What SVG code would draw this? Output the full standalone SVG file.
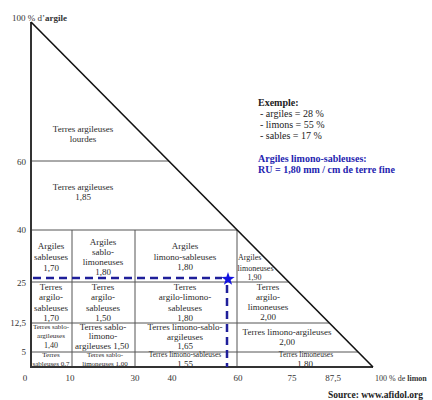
<svg xmlns="http://www.w3.org/2000/svg" width="432" height="400" viewBox="0 0 432 400">
<style>
  text { font-family: "Liberation Serif", "Times New Roman", serif; fill: #2a2a2a; }
  .c9 { font-size: 9px; text-anchor: middle; }
  .c8 { font-size: 8px; }
  .c7 { font-size: 7px; text-anchor: middle; }
  .ax { font-size: 9px; fill: #333; }
  .axr { font-size: 9px; fill: #333; text-anchor: end; }
  .axc { font-size: 9px; fill: #333; text-anchor: middle; }
  .grid { stroke: #555; stroke-width: 1; fill: none; }
  .axis { stroke: #333; stroke-width: 2; fill: none; }
  .hyp { stroke: #111; stroke-width: 1.6; fill: none; }
  .dash { stroke: #1f1f9a; stroke-width: 2.5; stroke-dasharray: 8 5; fill: none; }
  .leg { font-size: 10px; fill: #222; }
  .legb { font-size: 10px; font-weight: bold; fill: #222; }
  .blue { font-size: 10px; font-weight: bold; fill: #2424b0; }
</style>
<rect width="432" height="400" fill="#ffffff"/>

<g id="connectors">
  <!-- grid lines -->
  <line class="grid" x1="31" y1="161" x2="169" y2="161"/>
  <line class="grid" x1="31" y1="230" x2="237" y2="230"/>
  <line class="grid" x1="31" y1="282" x2="289" y2="282"/>
  <line class="grid" x1="31" y1="323" x2="329" y2="323"/>
  <line class="grid" x1="31" y1="352" x2="358" y2="352"/>
  <line class="grid" x1="72" y1="230" x2="72" y2="367"/>
  <line class="grid" x1="135" y1="230" x2="135" y2="367"/>
  <line class="grid" x1="237" y1="230" x2="237" y2="367"/>
  <!-- axes -->
  <line class="axis" x1="31" y1="22" x2="31" y2="368"/>
  <line class="axis" x1="30" y1="367" x2="373" y2="367"/>
  <line class="hyp" x1="31" y1="22" x2="373" y2="367"/>
  <!-- example dashed lines -->
  <line class="dash" x1="33" y1="278" x2="222" y2="278"/>
  <line class="dash" x1="227" y1="285" x2="227" y2="367"/>
</g>

<g id="star">
  <polygon fill="#1212e0" points="228,272 229.6,276.8 234.7,276.9 230.6,279.9 232.1,284.8 228,281.9 223.9,284.8 225.4,279.9 221.3,276.9 226.4,276.8"/>
</g>

<g id="axis-labels">
  <text class="ax" x="12" y="21">100 % d’<tspan font-weight="bold">argile</tspan></text>
  <text class="axr" x="26" y="165">60</text>
  <text class="axr" x="26" y="233">40</text>
  <text class="axr" x="26" y="286">25</text>
  <text class="axr" x="26" y="326">12,5</text>
  <text class="axr" x="26" y="355">5</text>
  <text class="axc" x="25" y="381">0</text>
  <text class="axc" x="70" y="381">10</text>
  <text class="axc" x="135" y="381">30</text>
  <text class="axc" x="172" y="381">40</text>
  <text class="axc" x="238" y="381">60</text>
  <text class="axc" x="292" y="381">75</text>
  <text class="axc" x="333" y="381">87,5</text>
  <text class="ax" x="375" y="381" style="font-size:8px">100 % de <tspan font-weight="bold">limon</tspan></text>
</g>

<g id="n-argileuses-lourdes">
  <text class="c9" x="83" y="132">Terres argileuses</text>
  <text class="c9" x="83" y="142">lourdes</text>
</g>
<g id="n-argileuses">
  <text class="c9" x="83" y="190">Terres argileuses</text>
  <text class="c9" x="83" y="200">1,85</text>
</g>
<g id="n-argiles-sableuses">
  <text class="c9" x="51" y="249">Argiles</text>
  <text class="c9" x="51" y="260">sableuses</text>
  <text class="c9" x="51" y="271">1,70</text>
</g>
<g id="n-argiles-sablo-limoneuses">
  <text class="c9" x="103" y="245">Argiles</text>
  <text class="c9" x="103" y="255">sablo-</text>
  <text class="c9" x="103" y="265">limoneuses</text>
  <text class="c9" x="103" y="275">1,80</text>
</g>
<g id="n-argiles-limono-sableuses">
  <text class="c9" x="185" y="249">Argiles</text>
  <text class="c9" x="185" y="260">limono-sableuses</text>
  <text class="c9" x="185" y="270">1,80</text>
</g>
<g id="n-argiles-limoneuses">
  <text class="c8" x="238" y="260">Argiles</text>
  <text class="c8" x="237.5" y="271">limoneuses</text>
  <text class="c8" x="254.5" y="280" text-anchor="middle">1,90</text>
</g>
<g id="n-argilo-sableuses-170">
  <text class="c9" x="51" y="290">Terres</text>
  <text class="c9" x="51" y="300">argilo-</text>
  <text class="c9" x="51" y="311">sableuses</text>
  <text class="c9" x="51" y="321">1,70</text>
</g>
<g id="n-argilo-sableuses-150">
  <text class="c9" x="103" y="290">Terres</text>
  <text class="c9" x="103" y="300">argilo-</text>
  <text class="c9" x="103" y="311">sableuses</text>
  <text class="c9" x="103" y="321">1,50</text>
</g>
<g id="n-argilo-limono-sableuses">
  <text class="c9" x="185" y="290">Terres</text>
  <text class="c9" x="185" y="300">argilo-limono-</text>
  <text class="c9" x="185" y="311">sableuses</text>
  <text class="c9" x="185" y="321">1,80</text>
</g>
<g id="n-argilo-limoneuses">
  <text class="c9" x="268" y="290">Terres</text>
  <text class="c9" x="268" y="300">argilo-</text>
  <text class="c9" x="268" y="310">limoneuses</text>
  <text class="c9" x="268" y="320">2,00</text>
</g>
<g id="n-sablo-argileuses">
  <text class="c7" x="51" y="328.5">Terres sablo-</text>
  <text class="c7" x="51" y="337.5">argileuses</text>
  <text class="c7" x="51" y="348" style="font-size:8px">1,40</text>
</g>
<g id="n-sablo-limono-argileuses">
  <text class="c9" x="103" y="330">Terres sablo-</text>
  <text class="c9" x="103" y="339">limono-</text>
  <text class="c9" x="102" y="349">argileuses 1,50</text>
</g>
<g id="n-limono-sablo-argileuses">
  <text class="c9" x="185" y="330">Terres limono-sablo-</text>
  <text class="c9" x="185" y="340">argileuses</text>
  <text class="c9" x="185" y="349">1,65</text>
</g>
<g id="n-limono-argileuses">
  <text class="c9" x="287" y="335">Terres limono-argileuses</text>
  <text class="c9" x="287" y="345">2,00</text>
</g>
<g id="n-sableuses">
  <text class="c7" x="51" y="356.5">Terres</text>
  <text class="c7" x="51" y="365.5">sableuses 0,7</text>
</g>
<g id="n-sablo-limoneuses">
  <text class="c7" x="105" y="356.5">Terres sablo-</text>
  <text class="c7" x="105" y="365.5">limoneuses 1,00</text>
</g>
<g id="n-limono-sableuses">
  <text class="c7" x="185" y="356.5" style="font-size:7.5px">Terres limono-sableuses</text>
  <text class="c9" x="185" y="366.5">1,55</text>
</g>
<g id="n-limoneuses">
  <text class="c7" x="306" y="356.5" style="font-size:7.5px">Terres limoneuses</text>
  <text class="c9" x="305" y="366.5">1,80</text>
</g>

<g id="legend">
  <text class="legb" x="258" y="106">Exemple:</text>
  <text class="leg" x="260" y="117">- argiles = 28 %</text>
  <text class="leg" x="260" y="128">- limons = 55 %</text>
  <text class="leg" x="260" y="139">- sables = 17 %</text>
  <text class="blue" x="258" y="162">Argiles limono-sableuses:</text>
  <text class="blue" x="258" y="173">RU = 1,80 mm / cm de terre fine</text>
</g>

<g id="source">
  <text class="legb" x="423" y="398" text-anchor="end" style="font-size:9.5px">Source: www.afidol.org</text>
</g>
</svg>
